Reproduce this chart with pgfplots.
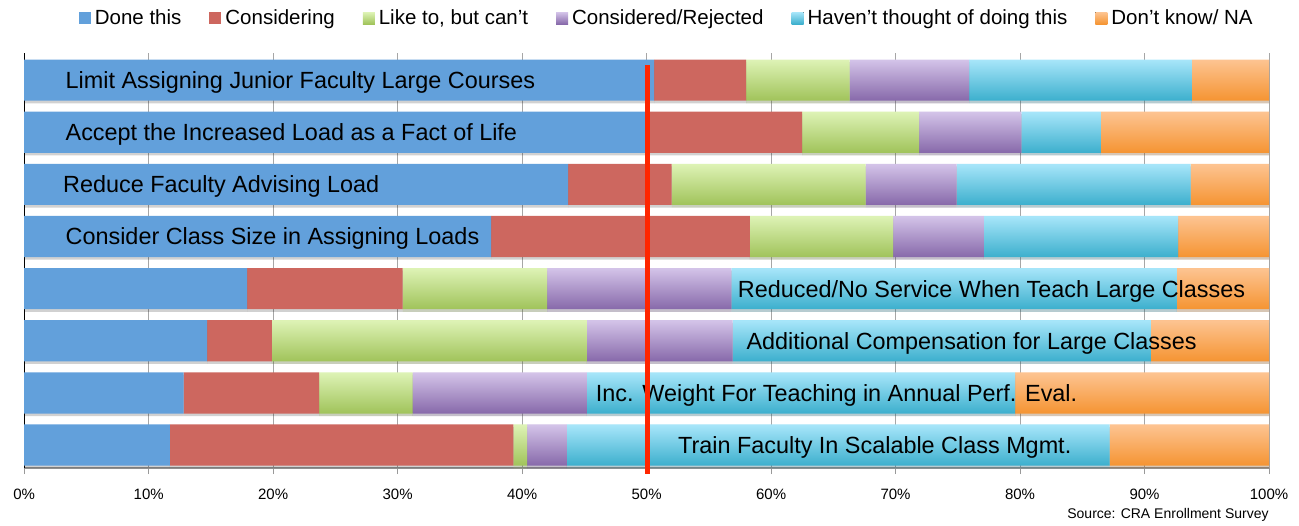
\documentclass[border=0pt]{standalone}
\usepackage{fontspec}
\setmainfont{Liberation Sans}
\usepackage{pgfplots}
\pgfplotsset{compat=1.18}
\usetikzlibrary{shadows}
\definecolor{done}{RGB}{98,160,219}
\definecolor{cons}{RGB}{205,103,95}
\definecolor{likeT}{RGB}{222,243,182}
\definecolor{likeB}{RGB}{160,195,90}
\definecolor{crT}{RGB}{212,196,233}
\definecolor{crB}{RGB}{135,105,170}
\definecolor{havT}{RGB}{168,230,250}
\definecolor{havB}{RGB}{60,175,205}
\definecolor{dkT}{RGB}{253,196,146}
\definecolor{dkB}{RGB}{245,148,50}
\definecolor{redline}{RGB}{255,38,0}
% one gradient per bar row: the 8 rows of a series form one path
\newcommand\rowshading[3]{%
\pgfdeclareverticalshading{#1}{100bp}{color(0bp)=(#2); color(25bp)=(#2); color(30.07bp)=(#3);
 color(31.42bp)=(#2); color(36.49bp)=(#3); color(37.84bp)=(#2); color(42.91bp)=(#3);
 color(44.26bp)=(#2); color(49.33bp)=(#3); color(50.67bp)=(#2); color(55.74bp)=(#3);
 color(57.09bp)=(#2); color(62.16bp)=(#3); color(63.51bp)=(#2); color(68.58bp)=(#3);
 color(69.93bp)=(#2); color(75bp)=(#3); color(100bp)=(#3)}}
\rowshading{likesh}{likeB}{likeT}
\rowshading{crsh}{crB}{crT}
\rowshading{havsh}{havB}{havT}
\rowshading{dksh}{dkB}{dkT}
\tikzset{lbl/.style={anchor=west, inner sep=0pt, yshift=-1.2pt, font=\fontsize{11.7}{14}\selectfont},
  barshadow/.style={drop shadow={shadow xshift=0pt, shadow yshift=-1.3pt, opacity=0.18, fill=black}}}
\begin{document}
\begin{tikzpicture}
\useasboundingbox (-12.1pt,-28.5pt) rectangle (637.4pt,234pt);
\begin{axis}[
  at={(0pt,0pt)}, anchor=south west,
  scale only axis, width=622.4pt, height=207.5pt,
  xbar stacked, bar width=0.79,
  xmin=0, xmax=100, ymin=0.56, ymax=8.52,
  axis x line*=bottom, axis y line*=none, ytick=\empty,
  xtick={0,10,...,100},
  xticklabel={\pgfmathprintnumber{\tick}\%},
  /pgf/number format/assume math mode=true,
  ticklabel style={font=\fontsize{7.5}{9}\selectfont},
  xticklabel style={yshift=-4pt},
  xmajorgrids, grid style={draw=black!35, line width=0.5pt},
  tick align=outside, major tick length=3pt,
  tick style={draw=black!40, line width=0.5pt},
  x axis line style={draw=black!40, line width=0.6pt},
  clip=false,
  legend columns=6,
  legend image code/.code={\fill[#1] (0pt,-3pt) rectangle (6pt,3pt);},
  legend style={at={(0.517,1.084)}, anchor=center, draw=none, fill=none,
    font=\fontsize{10.25}{12}\selectfont,
    /tikz/every even column/.append style={column sep=12pt}},
]
\addlegendimage{fill=done, draw=none}
\addlegendentry{Done this}
\addlegendimage{fill=cons, draw=none}
\addlegendentry{Considering}
\addlegendimage{top color=likeT, bottom color=likeB, draw=none}
\addlegendentry{Like to, but can't}
\addlegendimage{top color=crT, bottom color=crB, draw=none}
\addlegendentry{Considered/Rejected}
\addlegendimage{top color=havT, bottom color=havB, draw=none}
\addlegendentry{Haven’t thought of doing this}
\addlegendimage{top color=dkT, bottom color=dkB, draw=none}
\addlegendentry{Don't know/ NA}
\addplot[forget plot, barshadow, fill=done, draw=none] coordinates {(50.6,8) (50.0,7) (43.7,6) (37.5,5) (17.9,4) (14.7,3) (12.8,2) (11.7,1)};
\addplot[forget plot, barshadow, fill=cons, draw=none] coordinates {(7.4,8) (12.5,7) (8.3,6) (20.8,5) (12.5,4) (5.2,3) (10.9,2) (27.6,1)};
\addplot[forget plot, barshadow, shade, shading=likesh, draw=none] coordinates {(8.3,8) (9.4,7) (15.6,6) (11.5,5) (11.6,4) (25.3,3) (7.5,2) (1.1,1)};
\addplot[forget plot, barshadow, shade, shading=crsh, draw=none] coordinates {(9.6,8) (8.2,7) (7.3,6) (7.3,5) (14.8,4) (11.7,3) (14.0,2) (3.2,1)};
\addplot[forget plot, barshadow, shade, shading=havsh, draw=none] coordinates {(17.9,8) (6.4,7) (18.8,6) (15.6,5) (35.8,4) (33.6,3) (34.4,2) (43.6,1)};
\addplot[forget plot, barshadow, shade, shading=dksh, draw=none] coordinates {(6.2,8) (13.5,7) (6.3,6) (7.3,5) (7.4,4) (9.5,3) (20.4,2) (12.8,1)};
\coordinate (l8) at (axis cs:3.3,8);
\coordinate (l7) at (axis cs:3.3,7);
\coordinate (l6) at (axis cs:3.1,6);
\coordinate (l5) at (axis cs:3.3,5);
\coordinate (l4) at (axis cs:57.3,4);
\coordinate (l3) at (axis cs:58.0,3);
\coordinate (l2) at (axis cs:45.9,2);
\coordinate (l1) at (axis cs:52.5,1);
\coordinate (rtop) at (axis cs:50.1,8.29);
\coordinate (rbot) at (axis cs:50.1,0.44);
\coordinate (src) at (rel axis cs:1,-0.113);
\end{axis}
\node[lbl] at (l8) {Limit Assigning Junior Faculty Large Courses};
\node[lbl] at (l7) {Accept the Increased Load as a Fact of Life};
\node[lbl] at (l6) {Reduce Faculty Advising Load};
\node[lbl] at (l5) {Consider Class Size in Assigning Loads};
\node[lbl] at (l4) {Reduced/No Service When Teach Large Classes};
\node[lbl] at (l3) {Additional Compensation for Large Classes};
\node[lbl] at (l2) {Inc. Weight For Teaching in Annual Perf. Eval.};
\node[lbl] at (l1) {Train Faculty In Scalable Class Mgmt.};
\draw[line width=2.5pt, color=redline] (rtop) -- (rbot);
\node[anchor=east, inner sep=0pt, font=\fontsize{7}{8}\selectfont] at (src) {Source: CRA Enrollment Survey};
\end{tikzpicture}
\end{document}
